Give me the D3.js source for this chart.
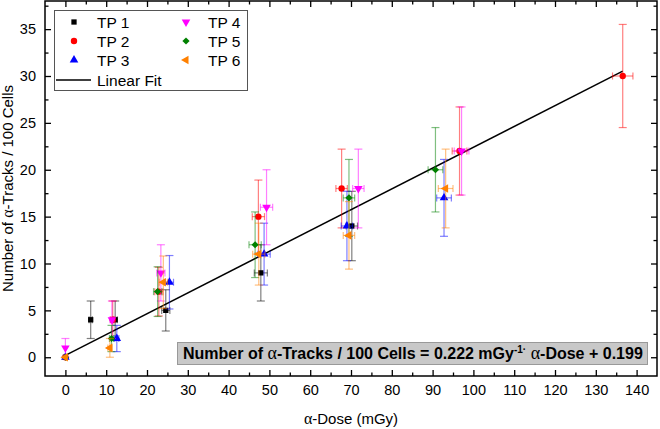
<!DOCTYPE html>
<html><head><meta charset="utf-8">
<script src="https://cdn.jsdelivr.net/npm/d3@7"></script>
<style>body{margin:0;background:#fff}svg{display:block}text{font-family:"Liberation Sans",Arial,sans-serif}</style>
</head><body><svg id="c" width="660" height="429"></svg>
<script>
// ---- data ----
const seriesNames = ["TP 1","TP 2","TP 3","TP 4","TP 5","TP 6"];
const tp1X = [0, 6.2, 12.2, 24.6, 47.9, 70.2];
const tp1Y = [0, 4, 4, 5, 9, 14];
const tp1YErr = [0, 2, 2, 2.2, 3, 3.7];
const tp1XErr = [0, 0.4, 0.5, 1, 1.6, 1.4];
const tp2X = [0, 11.6, 22.9, 47.3, 67.7, 96.6, 136.6];
const tp2Y = [0, 4, 7, 15, 18, 22, 30];
const tp2YErr = [0, 2, 2.6, 3.9, 4.2, 4.7, 5.5];
const tp2XErr = [0, 0.5, 1, 1.5, 1.4, 1.8, 2.5];
const tp3X = [0, 12.6, 25.5, 48.7, 69.0, 92.8];
const tp3Y = [0, 2, 8, 11, 14, 17];
const tp3YErr = [0, 1.4, 2.85, 3.3, 3.7, 4.1];
const tp3XErr = [0, 0.5, 1, 1.5, 1.4, 1.8];
const tp4X = [0, 11.4, 23.4, 49.3, 71.8, 97.1];
const tp4Y = [1, 4, 9, 16, 18, 22];
const tp4YErr = [1, 2, 3, 4, 4.2, 4.7];
const tp4XErr = [0, 0.5, 1, 1.5, 1.4, 1.8];
const tp5X = [0, 11.3, 22.6, 46.5, 69.5, 90.7];
const tp5Y = [0, 2, 7, 12, 17, 20];
const tp5YErr = [0, 1.4, 2.65, 3.5, 4.1, 4.5];
const tp5XErr = [0, 0.5, 1, 1.5, 1.4, 1.8];
const tp6X = [0, 10.9, 24.0, 47.4, 69.5, 93.2];
const tp6Y = [0, 1, 8, 11, 13, 18];
const tp6YErr = [0, 1, 2.8, 3.3, 3.6, 4.2];
const tp6XErr = [0, 0.5, 1, 1.5, 1.4, 1.8];
const fitSlope = 0.222, fitIntercept = 0.199;
const fitRange = [0, 136.6];
const xTicks = [0,10,20,30,40,50,60,70,80,90,100,110,120,130,140];
const xMinorTicks = [5,15,25,35,45,55,65,75,85,95,105,115,125,135];
const yTicks = [0,5,10,15,20,25,30,35];
const yMinorTicks = [2.5,7.5,12.5,17.5,22.5,27.5,32.5,37.5];

const colors = ["#000000","#ff0000","#0000ff","#ff00ff","#008000","#ff8000"];
const symbols = [
  {t:d3.symbolSquare, s:28, r:0},
  {t:d3.symbolCircle, s:32, r:0},
  {t:d3.symbolTriangle, s:32, r:0},
  {t:d3.symbolTriangle, s:32, r:180},
  {t:d3.symbolSquare, s:26, r:45},
  {t:d3.symbolTriangle, s:32, r:-90}
];
const series = [
  [tp1X,tp1Y,tp1YErr,tp1XErr],[tp2X,tp2Y,tp2YErr,tp2XErr],[tp3X,tp3Y,tp3YErr,tp3XErr],
  [tp4X,tp4Y,tp4YErr,tp4XErr],[tp5X,tp5Y,tp5YErr,tp5XErr],[tp6X,tp6Y,tp6YErr,tp6XErr]
].map((a,i)=>({name:seriesNames[i], pts:a[0].map((x,j)=>({x, y:a[1][j], ye:a[2][j], xe:a[3][j]}))}));

// ---- layout ----
const L=45,R=657,T=1,B=376;
const x = d3.scaleLinear().domain([-5,145]).range([L,R]);
const y = d3.scaleLinear().domain([-2,38]).range([B,T]);
const svg = d3.select("#c");

function axis(gen, scale, vals, size, labels, tr){
  const g = svg.append("g").attr("transform",tr)
    .call(gen(scale).tickValues(vals).tickSize(size).tickSizeOuter(0).tickPadding(labels?9:0).tickFormat(labels?d3.format("d"):""));
  g.select(".domain").remove();
  g.selectAll(".tick line").attr("stroke","#000").attr("stroke-width",1.3);
  g.selectAll("text").attr("font-size",14.5).attr("fill","#000");
  return g;
}
axis(d3.axisBottom,x,xTicks,-6,true,`translate(0,${B})`);
axis(d3.axisBottom,x,xMinorTicks,-3.5,false,`translate(0,${B})`);
axis(d3.axisTop,x,xTicks,-6,false,`translate(0,${T})`);
axis(d3.axisTop,x,xMinorTicks,-3.5,false,`translate(0,${T})`);
axis(d3.axisLeft,y,yTicks,-6,true,`translate(${L},0)`);
axis(d3.axisLeft,y,yMinorTicks.filter(v=>v<38),-3.5,false,`translate(${L},0)`);
axis(d3.axisRight,y,yTicks,-6,false,`translate(${R},0)`);
axis(d3.axisRight,y,yMinorTicks.filter(v=>v<38),-3.5,false,`translate(${R},0)`);
svg.append("rect").attr("x",L).attr("y",T).attr("width",R-L).attr("height",B-T)
  .attr("fill","none").attr("stroke","#000").attr("stroke-width",1.5);

// axis titles
const xt = svg.append("text").attr("x",(L+R)/2).attr("y",424).attr("text-anchor","middle").attr("font-size",15);
xt.append("tspan").attr("font-family","'Liberation Serif',serif").attr("font-size",16).text("α");
xt.append("tspan").text("-Dose (mGy)");
const yt = svg.append("text").attr("transform",`translate(13,${(T+B)/2}) rotate(-90)`).attr("text-anchor","middle").attr("font-size",15);
yt.append("tspan").text("Number of ");
yt.append("tspan").attr("font-family","'Liberation Serif',serif").attr("font-size",16).text("α");
yt.append("tspan").text("-Tracks / 100 Cells");

// fit line
svg.append("line").attr("x1",x(fitRange[0])).attr("y1",y(fitSlope*fitRange[0]+fitIntercept))
  .attr("x2",x(fitRange[1])).attr("y2",y(fitSlope*fitRange[1]+fitIntercept))
  .attr("stroke","#000").attr("stroke-width",1.5);

// error bars + points
series.forEach((s,i)=>{
  const g = svg.append("g");
  const eb = g.append("g").attr("stroke",colors[i]).attr("stroke-opacity",0.5).attr("stroke-width",1.2);
  s.pts.forEach(p=>{
    if(p.ye>0){
      eb.append("line").attr("x1",x(p.x)).attr("x2",x(p.x)).attr("y1",y(p.y-p.ye)).attr("y2",y(p.y+p.ye));
      [p.y-p.ye,p.y+p.ye].forEach(v=>eb.append("line").attr("x1",x(p.x)-4).attr("x2",x(p.x)+4).attr("y1",y(v)).attr("y2",y(v)));
    }
    if(p.xe>0){
      eb.append("line").attr("y1",y(p.y)).attr("y2",y(p.y)).attr("x1",x(p.x-p.xe)).attr("x2",x(p.x+p.xe));
      [p.x-p.xe,p.x+p.xe].forEach(v=>eb.append("line").attr("y1",y(p.y)-3.5).attr("y2",y(p.y)+3.5).attr("x1",x(v)).attr("x2",x(v)));
    }
  });
  const sym = d3.symbol().type(symbols[i].t).size(symbols[i].s);
  g.selectAll("path.pt").data(s.pts).join("path").attr("class","pt")
    .attr("d",sym).attr("fill",colors[i])
    .attr("transform",p=>`translate(${x(p.x)},${y(p.y)}) rotate(${symbols[i].r})`);
});

// legend
const lg = svg.append("g");
lg.append("rect").attr("x",54.5).attr("y",10.5).attr("width",193).attr("height",80)
  .attr("fill","#fff").attr("stroke","#555").attr("stroke-width",1);
const legRows=[22,41,60];
seriesNames.forEach((n,i)=>{
  const col=Math.floor(i/3), row=i%3;
  const sx = col===0?74:186, tx = col===0?97:208;
  const sym = d3.symbol().type(symbols[i].t).size(symbols[i].s);
  lg.append("path").attr("d",sym).attr("fill",colors[i])
    .attr("transform",`translate(${sx},${legRows[row]}) rotate(${symbols[i].r})`);
  lg.append("text").attr("x",tx).attr("y",legRows[row]+5.5).attr("font-size",15.5).text(n);
});
lg.append("line").attr("x1",56).attr("x2",91).attr("y1",80).attr("y2",80).attr("stroke","#000").attr("stroke-width",1.5);
lg.append("text").attr("x",97).attr("y",85.5).attr("font-size",15.5).text("Linear Fit");

// annotation
const an = svg.append("g");
an.append("rect").attr("x",177.5).attr("y",342.5).attr("width",470).attr("height",22)
  .attr("fill","#c8c8c8").attr("stroke","#999").attr("stroke-width",1);
const at = an.append("text").attr("x",183).attr("y",359).attr("font-size",16).attr("font-weight","bold");
at.append("tspan").text("Number of ");
at.append("tspan").attr("font-family","'Liberation Serif',serif").attr("font-weight","normal").attr("font-size",18).text("α");
at.append("tspan").text("-Tracks / 100 Cells = "+fitSlope.toFixed(3)+" mGy");
at.append("tspan").attr("font-size",10).attr("dy",-6).text("-1·");
at.append("tspan").attr("dy",6).text(" ");
at.append("tspan").attr("font-family","'Liberation Serif',serif").attr("font-weight","normal").attr("font-size",18).text("α");
at.append("tspan").text("-Dose + "+fitIntercept.toFixed(3));
</script></body></html>
